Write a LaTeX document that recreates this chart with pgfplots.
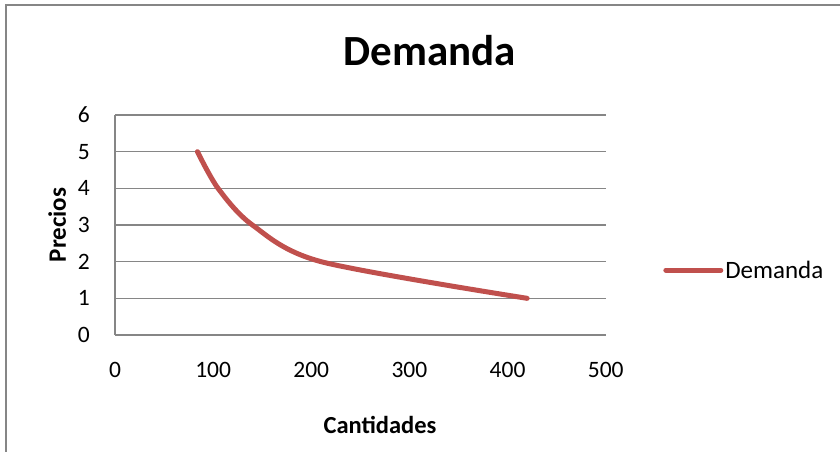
\documentclass[border=0pt]{standalone}
\usepackage{pgfplots}
\pgfplotsset{compat=1.18}
\usepackage{fontspec}
\setmainfont{Carlito}
\definecolor{exred}{HTML}{C0504D}
\definecolor{gridgray}{HTML}{868686}
\begin{document}
\begin{tikzpicture}
\useasboundingbox (0,0) rectangle (840bp,452bp);
\draw[gridgray, line width=1.6bp] (6bp,0bp) -- (6bp,447bp) -- (840bp,447bp);
\begin{axis}[
  at={(115bp,117bp)}, anchor=south west,
  scale only axis, width=490.7bp, height=220bp,
  xmin=0, xmax=500, ymin=0, ymax=6,
  xtick={0,100,...,500}, ytick={0,1,...,6},
  axis x line*=bottom, axis y line*=left,
  axis line style={gridgray, line width=1.4bp, -},
  ymajorgrids, grid style={gridgray, line width=1.4bp},
  major tick length=0pt,
  /pgf/number format/assume math mode=true,
  ticklabel style={font=\fontsize{23.5bp}{27bp}\selectfont, inner sep=0pt},
  xticklabel style={anchor=center, yshift=-35bp},
  yticklabel style={anchor=east, xshift=-25bp},
  title={Demanda},
  title style={font=\fontsize{43bp}{48bp}\selectfont\bfseries, at={(axis description cs:0.642,1.264)}, anchor=center, inner sep=0pt},
  xlabel={Cantidades},
  xlabel style={font=\fontsize{24.5bp}{28bp}\selectfont\bfseries, at={(axis description cs:0.54,-0.409)}, anchor=center, inner sep=0pt},
  ylabel={Precios},
  ylabel style={font=\fontsize{25bp}{28bp}\selectfont\bfseries, at={(axis description cs:-0.118,0.5)}, anchor=center, rotate=0, inner sep=0pt},
  legend style={draw=none, fill=none, at={(axis description cs:1.117,0.295)}, anchor=west, inner sep=0pt, font=\fontsize{25bp}{28bp}\selectfont, legend cell align=left},
  legend image code/.code={\draw[#1, line cap=round] (0bp,0bp) -- (55bp,0bp);},
  clip=false,
]
\addplot[exred, line width=5bp, line cap=round, smooth, tension=0.5] coordinates {
  (84,5) (105,4) (140,3) (210,2) (420,1)
};
\addlegendentry{Demanda}
\end{axis}
\end{tikzpicture}
\end{document}
